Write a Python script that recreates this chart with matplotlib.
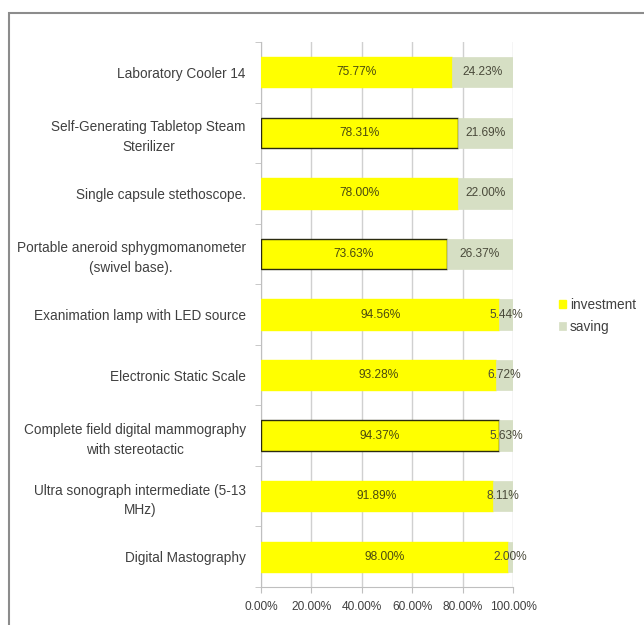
import numpy as np
import matplotlib
matplotlib.use("Agg")
import matplotlib.pyplot as plt
from matplotlib.patches import Rectangle

# data, top to bottom as shown in the chart
items = ["Laboratory Cooler 14",
         "Self-Generating Tabletop Steam\nSterilizer",
         "Single capsule stethoscope.",
         "Portable aneroid sphygmomanometer\n(swivel base).",
         "Exanimation lamp with LED source",
         "Electronic Static Scale",
         "Complete field digital mammography\nwith stereotactic",
         "Ultra sonograph intermediate (5-13\nMHz)",
         "Digital Mastography"]
investment = [75.77, 78.31, 78.00, 73.63, 94.56, 93.28, 94.37, 91.89, 98.00]
saving = [24.23, 21.69, 22.00, 26.37, 5.44, 6.72, 5.63, 8.11, 2.00]
outlined = [False, True, False, True, False, False, True, False, False]
xticks = [0, 20, 40, 60, 80, 100]

plt.rcParams['font.family'] = ['Liberation Sans', 'DejaVu Sans']
fs = 8.6      # value and tick labels
fs_cat = 9.8  # category names and legend

fig = plt.figure(figsize=(6.44, 6.25), dpi=100)
ax = fig.add_axes([261/644, 1 - 587/625, 252/644, 545/625])

# outer chart border
fig.patches.append(Rectangle((9/644, -0.1), 1.1, 1 - 13/625 + 0.1,
                             transform=fig.transFigure, fill=False,
                             edgecolor='#8c8c8c', linewidth=1.5))

n = len(items)
y = np.arange(n)[::-1]
inv_col = '#ffff00'
sav_col = '#d6dfc4'

ax.barh(y, investment, height=0.5, color=inv_col,
        edgecolor=['#2b2b10' if o else inv_col for o in outlined],
        linewidth=1.0, label='investment', zorder=3)
ax.barh(y, saving, left=investment, height=0.5, color=sav_col,
        edgecolor=sav_col, linewidth=0.5, label='saving', zorder=3)

for yi, a, b in zip(y, investment, saving):
    ax.text(a / 2, yi, f"{a:.2f}%", ha='center', va='center',
            fontsize=fs, color='#4a4a10', zorder=4)
    ax.text(a + b / 2, yi, f"{b:.2f}%", ha='center',
            va='center', fontsize=fs, color='#4a4a3a', zorder=4)

ax.set_xlim(0, 100)
ax.set_ylim(-0.5, n - 0.5)
ax.set_xticks(xticks)
ax.set_xticklabels([f"{v:.2f}%" for v in xticks], fontsize=fs, color='#404040')
ax.set_yticks(y)
ax.set_yticklabels(items, fontsize=fs_cat, color='#404040',
                   multialignment='center', linespacing=1.5)
ax.set_yticks(np.arange(n + 1) - 0.5, minor=True)
ax.tick_params(axis='y', which='major', length=0, pad=11)
ax.tick_params(axis='y', which='minor', length=4, color='#bfbfbf')
ax.tick_params(axis='x', length=4, color='#bfbfbf', pad=6)

ax.grid(axis='x', color='#d0d0d0', linewidth=1.0, zorder=0)
for s in ['top', 'right']:
    ax.spines[s].set_visible(False)
ax.spines['left'].set_color('#bfbfbf')
ax.spines['bottom'].set_color('#bfbfbf')

leg = fig.legend(loc='center left', bbox_to_anchor=(559/644, 1 - 316/625),
                 frameon=False, fontsize=fs_cat, handlelength=0.5, handleheight=0.5,
                 handletextpad=0.3, labelspacing=0.6, borderaxespad=0, borderpad=0)
for t in leg.get_texts():
    t.set_color('#404040')

fig.savefig('out.png', dpi=100)
